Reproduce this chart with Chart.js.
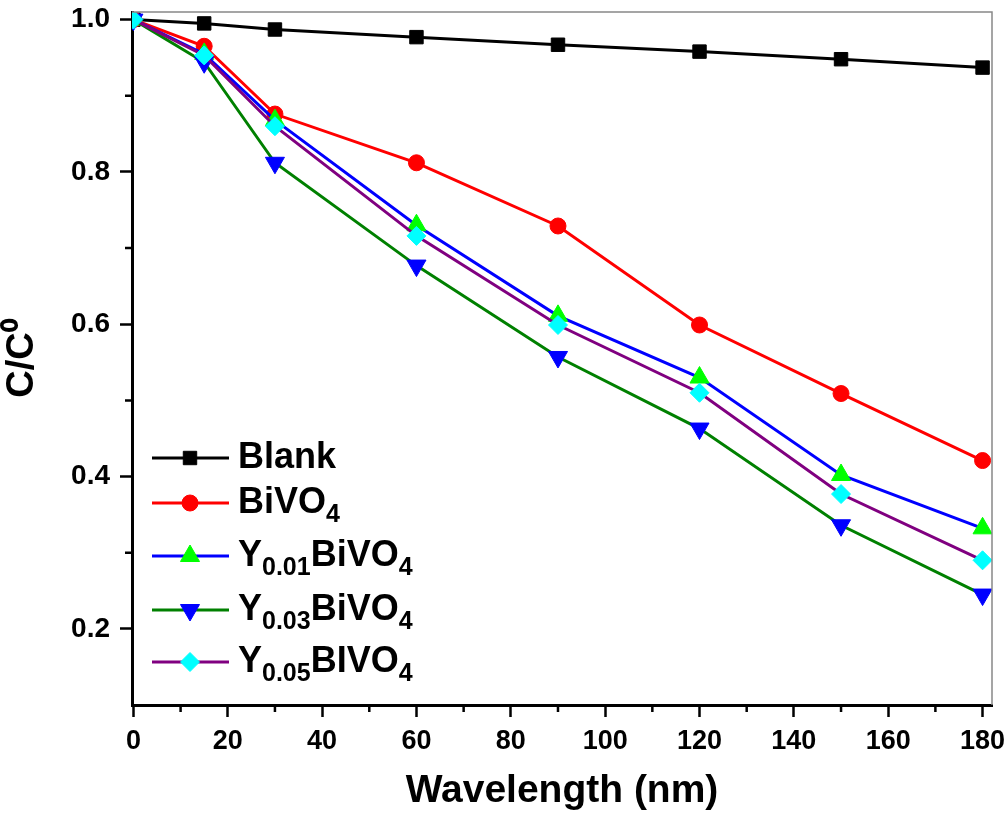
<!DOCTYPE html>
<html>
<head>
  <script src="https://cdn.jsdelivr.net/npm/chart.js"></script>
  <style>
    body { margin: 0; background: #fff; }
    #wrap { width: 1008px; height: 821px; }
  </style>
</head>
<body>
<div id="wrap"><canvas id="chart"></canvas></div>

<script>
// time points (axis is labelled "Wavelength (nm)" in the original)
const xValues = [0, 15, 30, 60, 90, 120, 150, 180];

const blank   = [1.0, 0.995, 0.987, 0.977, 0.967, 0.958, 0.948, 0.937];
const bivo4   = [1.0, 0.965, 0.876, 0.812, 0.729, 0.599, 0.509, 0.421];
const y001    = [1.0, 0.955, 0.868, 0.730, 0.611, 0.530, 0.402, 0.332];
const y003    = [1.0, 0.944, 0.812, 0.677, 0.557, 0.463, 0.336, 0.245];
const y005    = [1.0, 0.953, 0.860, 0.716, 0.599, 0.510, 0.377, 0.290];

const xTicks = [0, 20, 40, 60, 80, 100, 120, 140, 160, 180];
const xMinor = [10, 30, 50, 70, 90, 110, 130, 150, 170];
const yTicks = [0.2, 0.4, 0.6, 0.8, 1.0];
const yMinor = [0.3, 0.5, 0.7, 0.9];

// legend label parts: [main, subscript, rest, subscript]
const legendLabels = [
  ["Blank"],
  ["BiVO", "4"],
  ["Y", "0.01", "BiVO", "4"],
  ["Y", "0.03", "BiVO", "4"],
  ["Y", "0.05", "BIVO", "4"]
];

const pts = arr => arr.map((v, i) => ({ x: xValues[i], y: v }));

const FONT = "'Liberation Sans', Arial, sans-serif";

// minor ticks + gray top/right frame
const framePlugin = {
  id: "frame",
  afterDraw(chart) {
    const ctx = chart.ctx, a = chart.chartArea;
    const xs = chart.scales.x, ys = chart.scales.y;
    ctx.save();
    ctx.strokeStyle = "#888";
    ctx.lineWidth = 1.5;
    ctx.beginPath();
    ctx.moveTo(a.left, a.top);
    ctx.lineTo(a.right, a.top);
    ctx.lineTo(a.right, a.bottom);
    ctx.stroke();

    ctx.strokeStyle = "#000";
    ctx.lineWidth = 2.5;
    ctx.beginPath();
    xMinor.forEach(v => {
      const px = xs.getPixelForValue(v);
      ctx.moveTo(px, a.bottom);
      ctx.lineTo(px, a.bottom + 7);
    });
    yMinor.forEach(v => {
      const py = ys.getPixelForValue(v);
      ctx.moveTo(a.left, py);
      ctx.lineTo(a.left - 7, py);
    });
    ctx.stroke();
    ctx.restore();
  }
};

// legend with subscripts
const legendPlugin = {
  id: "subLegend",
  afterDatasetsDraw(chart) {
    const ctx = chart.ctx, a = chart.chartArea;
    const rowY = [458, 503, 556, 610, 662];
    ctx.save();
    chart.data.datasets.forEach((ds, i) => {
      const y = rowY[i];
      const x0 = a.left + 20, x1 = a.left + 97, xm = a.left + 58;
      ctx.strokeStyle = ds.borderColor;
      ctx.lineWidth = 3;
      ctx.beginPath();
      ctx.moveTo(x0, y);
      ctx.lineTo(x1, y);
      ctx.stroke();
      ctx.fillStyle = ds.pointBackgroundColor;
      ctx.strokeStyle = ds.pointBackgroundColor;
      ctx.lineWidth = 1;
      Chart.helpers.drawPoint(ctx, {
        pointStyle: ds.pointStyle,
        radius: ds.pointRadius,
        rotation: ds.pointRotation || 0,
        borderWidth: 1
      }, xm, y);

      let tx = a.left + 106;
      ctx.fillStyle = "#000";
      ctx.textBaseline = "middle";
      legendLabels[i].forEach((part, k) => {
        const sub = k % 2 === 1;
        ctx.font = "bold " + (sub ? 25 : 36) + "px " + FONT;
        ctx.fillText(part, tx, sub ? y + 12 : y);
        tx += ctx.measureText(part).width;
      });
    });
    ctx.restore();
  }
};

const mk = (label, data, line, marker, style, r, rot, order) => ({
  label: label,
  data: pts(data),
  borderColor: line,
  borderWidth: 3,
  pointBackgroundColor: marker,
  pointBorderColor: marker,
  pointBorderWidth: 1,
  pointStyle: style,
  pointRadius: r,
  pointRotation: rot,
  order: order,
  tension: 0
});

new Chart(document.getElementById("chart"), {
  type: "line",
  data: {
    datasets: [
      mk("Blank", blank, "#000000", "#000000", "rect", 9.5, 0, 5),
      mk("BiVO4", bivo4, "#ff0000", "#ff0000", "circle", 8, 0, 4),
      mk("Y0.01BiVO4", y001, "#0000ff", "#00ff00", "triangle", 11, 0, 3),
      mk("Y0.03BiVO4", y003, "#008000", "#0000ff", "triangle", 11, 180, 2),
      mk("Y0.05BIVO4", y005, "#800080", "#00ffff", "rectRot", 9.5, 0, 1)
    ]
  },
  options: {
    responsive: true,
    maintainAspectRatio: false,
    animation: false,
    layout: { padding: { left: 0, top: 12, right: 16, bottom: 0 } },
    plugins: {
      legend: { display: false },
      tooltip: { enabled: false }
    },
    scales: {
      x: {
        type: "linear",
        min: -0.3,
        max: 182,
        afterBuildTicks: s => { s.ticks = xTicks.map(v => ({ value: v })); },
        afterFit: s => { s.height = 116; s.paddingLeft = 0; s.paddingRight = 0; },
        border: { color: "#000", width: 3 },
        grid: { drawOnChartArea: false, tickLength: 12, tickWidth: 2.5, tickColor: "#000" },
        ticks: {
          color: "#000",
          padding: 8,
          font: { family: FONT, size: 27, weight: "bold" },
          callback: v => String(v)
        },
        title: {
          display: true,
          text: "Wavelength (nm)",
          color: "#000",
          padding: { top: 0, bottom: 6 },
          font: { family: FONT, size: 39, weight: "bold" }
        }
      },
      y: {
        min: 0.1,
        max: 1.01,
        afterBuildTicks: s => { s.ticks = yTicks.map(v => ({ value: v })); },
        afterFit: s => { s.width = 132; s.paddingTop = 0; s.paddingBottom = 0; },
        border: { color: "#000", width: 3 },
        grid: { drawOnChartArea: false, tickLength: 12, tickWidth: 2.5, tickColor: "#000" },
        ticks: {
          color: "#000",
          padding: 10,
          font: { family: FONT, size: 28, weight: "bold" },
          callback: v => v.toFixed(1)
        },
        title: {
          display: true,
          text: "C/C\u2070",
          color: "#000",
          padding: { top: 0, bottom: 6 },
          font: { family: FONT, size: 38, weight: "bold" }
        }
      }
    }
  },
  plugins: [framePlugin, legendPlugin]
});
</script>
</body>
</html>
